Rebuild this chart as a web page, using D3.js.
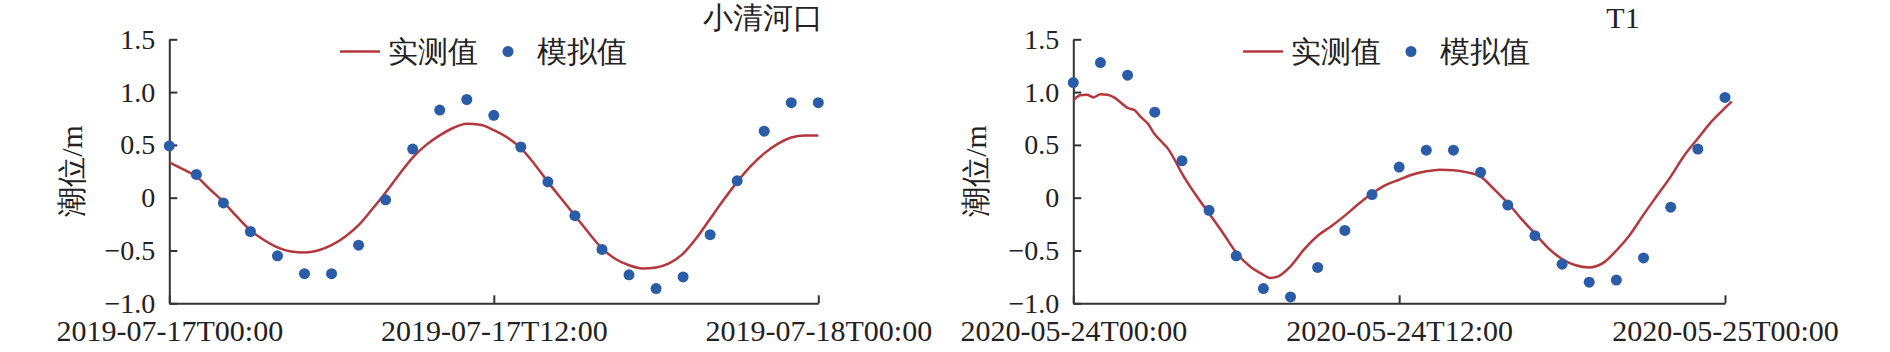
<!DOCTYPE html>
<html><head><meta charset="utf-8">
<script src="https://cdn.jsdelivr.net/npm/d3@7"></script>
<style>
body{margin:0;background:#fff}
svg text{font-family:"Liberation Serif","Tinos","Times New Roman","DejaVu Serif",serif;fill:#222}
</style>
</head><body>
<svg id="c" width="1890" height="352"></svg>
<script>
// ---- data ----
const simHours = [0,1,2,3,4,5,6,7,8,9,10,11,12,13,14,15,16,17,18,19,20,21,22,23,24];
const leftSim = [0.49,0.22,-0.05,-0.32,-0.55,-0.72,-0.72,-0.45,-0.02,0.46,0.83,0.93,0.78,0.48,0.15,-0.17,-0.49,-0.73,-0.86,-0.75,-0.35,0.16,0.63,0.90,0.90];
const leftObsHours = [0,0.5,1,1.5,2,2.5,3,3.5,4,4.5,5,5.5,6,6.5,7,7.5,8,8.5,9,9.5,10,10.5,11,11.5,12,12.5,13,13.5,14,14.5,15,15.5,16,16.5,17,17.5,18,18.5,19,19.5,20,20.5,21,21.5,22,22.5,23,23.5,24];
const leftObs = [0.335,0.27,0.20,0.08,-0.04,-0.18,-0.31,-0.40,-0.47,-0.51,-0.52,-0.50,-0.45,-0.37,-0.26,-0.11,0.05,0.22,0.38,0.50,0.59,0.66,0.70,0.69,0.64,0.57,0.47,0.32,0.15,-0.01,-0.17,-0.33,-0.48,-0.58,-0.64,-0.67,-0.66,-0.62,-0.53,-0.38,-0.20,-0.02,0.15,0.30,0.42,0.51,0.57,0.59,0.59];

const rightSim = [1.09,1.28,1.16,0.81,0.35,-0.12,-0.55,-0.86,-0.94,-0.66,-0.31,0.03,0.29,0.45,0.45,0.24,-0.07,-0.36,-0.63,-0.80,-0.78,-0.57,-0.09,0.46,0.95];
const rightObsHours = [0,0.25,0.5,0.75,1,1.25,1.5,1.75,2,2.25,2.5,2.75,3,3.25,3.5,3.75,4,4.5,5,5.5,6,6.5,7,7.25,7.5,8,8.5,9,9.5,10,10.5,11,11.5,12,12.5,13,13.5,14,14.5,15,15.5,16,16.5,17,17.5,18,18.5,19,19.5,20,20.5,21,21.5,22,22.5,23,23.5,24,24.25];
const rightObs = [0.92,0.97,0.975,0.95,0.98,0.975,0.95,0.90,0.85,0.83,0.76,0.70,0.60,0.53,0.46,0.35,0.23,0.03,-0.15,-0.33,-0.52,-0.65,-0.73,-0.76,-0.75,-0.65,-0.49,-0.36,-0.27,-0.17,-0.06,0.04,0.12,0.17,0.22,0.25,0.265,0.26,0.24,0.20,0.08,-0.05,-0.20,-0.34,-0.48,-0.58,-0.64,-0.66,-0.62,-0.50,-0.35,-0.16,0.02,0.20,0.40,0.56,0.72,0.85,0.91];

const yTicks = [-1.0,-0.5,0,0.5,1.0,1.5];
const yTickLabels = ["\u22121.0","\u22120.5","0","0.5","1.0","1.5"];
const seriesNames = ["实测值","模拟值"];
const yTitle = "潮位/m";

// ---- layout ----
const panels = [
  {start:"2019-07-17T00:00", title:"小清河口", obsH:leftObsHours, obs:leftObs, sim:leftSim,
   x0:169.3, x1:818.3, titleX:823, titleAnchor:"end", legX:340, yLabX:71},
  {start:"2020-05-24T00:00", title:"T1", obsH:rightObsHours, obs:rightObs, sim:rightSim,
   x0:1073.3, x1:1725, titleX:1623, titleAnchor:"middle", legX:1243, yLabX:975}
];
const lineColor = "#b3383d", dotColor = "#2b5ca8", axisColor = "#333";
const FONT = '"Liberation Serif","Tinos","Times New Roman","DejaVu Serif",serif';
const svg = d3.select("#c");
const fmt = d3.timeFormat("%Y-%m-%dT%H:%M");

panels.forEach(p => {
  const g = svg.append("g");
  const t0 = d3.timeParse("%Y-%m-%dT%H:%M")(p.start);
  const toDate = h => new Date(t0.getTime() + h*3600e3);
  const x = d3.scaleTime().domain([t0, toDate(24)]).range([p.x0, p.x1]);
  const y = d3.scaleLinear().domain([-1, 1.5]).range([303.3, 39.3]);

  // x axis
  const xa = g.append("g").attr("transform", `translate(0,${y(-1)})`)
    .call(d3.axisBottom(x).tickValues([t0, toDate(12), toDate(24)]).tickFormat(fmt)
      .tickSizeInner(-8).tickSizeOuter(0).tickPadding(0));
  xa.selectAll("text").attr("dy", 0).attr("y", 38).style("font-size", "30px");
  // y axis
  const ya = g.append("g").attr("transform", `translate(${p.x0},0)`)
    .call(d3.axisLeft(y).tickValues(yTicks).tickFormat((d,i) => yTickLabels[i])
      .tickSizeInner(-8).tickSizeOuter(0).tickPadding(14));
  ya.selectAll("text").style("font-size", "28px");
  [xa, ya].forEach(a => {
    a.attr("font-family", FONT).attr("font-size", null);
    a.selectAll("text").style("font-family", FONT).attr("fill", "#222");
    a.selectAll("path, line").attr("stroke", axisColor).attr("stroke-width", 2);
  });

  // y label
  g.append("text").attr("transform", `translate(${p.yLabX},171) rotate(-90)`)
    .attr("text-anchor", "middle").attr("dominant-baseline", "central")
    .style("font-family", FONT).style("font-size", "30px").text(yTitle);

  // observed line
  const obsData = p.obsH.map((h,i) => ({h, v: p.obs[i]}));
  g.append("path").datum(obsData)
    .attr("fill", "none").attr("stroke", lineColor).attr("stroke-width", 2.5)
    .attr("d", d3.line().x(d => x(toDate(d.h))).y(d => y(d.v)).curve(d3.curveMonotoneX));

  // simulated dots
  g.selectAll("circle.sim").data(simHours.map((h,i) => ({h, v: p.sim[i]})))
    .join("circle").attr("class", "sim")
    .attr("cx", d => x(toDate(d.h))).attr("cy", d => y(d.v))
    .attr("r", 5.5).attr("fill", dotColor);

  // title
  g.append("text").attr("x", p.titleX).attr("y", 17)
    .attr("text-anchor", p.titleAnchor).attr("dominant-baseline", "central")
    .style("font-family", FONT).style("font-size", "30px").text(p.title);

  // legend
  const ly = 51.5;
  g.append("line").attr("x1", p.legX).attr("x2", p.legX + 40).attr("y1", ly).attr("y2", ly)
    .attr("stroke", lineColor).attr("stroke-width", 2.5);
  g.append("text").attr("x", p.legX + 48).attr("y", ly).attr("dominant-baseline", "central")
    .style("font-family", FONT).style("font-size", "30px").text(seriesNames[0]);
  g.append("circle").attr("cx", p.legX + 168).attr("cy", ly).attr("r", 5.5).attr("fill", dotColor);
  g.append("text").attr("x", p.legX + 197).attr("y", ly).attr("dominant-baseline", "central")
    .style("font-family", FONT).style("font-size", "30px").text(seriesNames[1]);
});
</script>
</body></html>
